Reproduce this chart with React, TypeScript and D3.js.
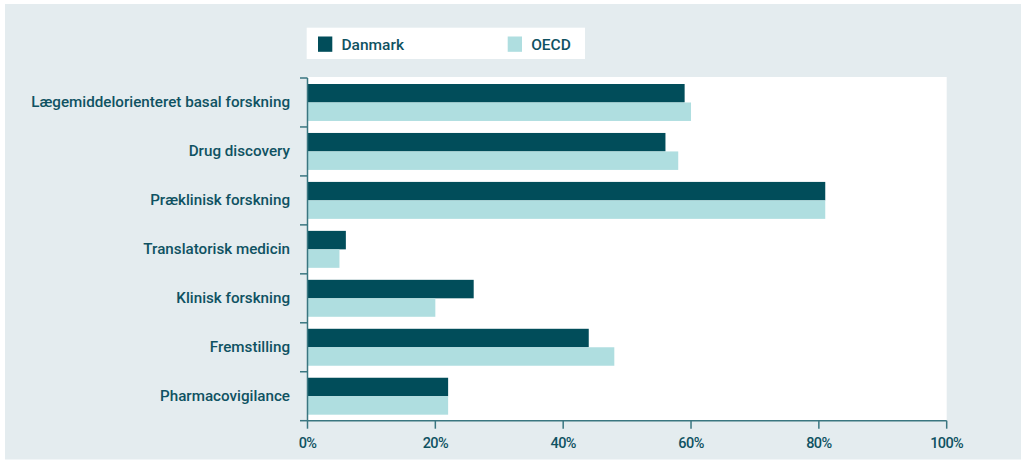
import React from "react";
import * as d3 from "d3";

const categories = [
  "Lægemiddelorienteret basal forskning",
  "Drug discovery",
  "Præklinisk forskning",
  "Translatorisk medicin",
  "Klinisk forskning",
  "Fremstilling",
  "Pharmacovigilance",
];
const danmark = [59, 56, 81, 6, 26, 44, 22];
const oecd = [60, 58, 81, 5, 20, 48, 22];
const seriesNames = ["Danmark", "OECD"];
const xTicks = [0, 20, 40, 60, 80, 100];

const DARK = "#014d5a";
const LIGHT = "#afdee0";
const TEXT = "#0f5262";
const AXIS = "#3a7680";
const BG = "#e4ecef";
const FONT = "Roboto, 'DejaVu Sans', sans-serif";

export default function App() {
  const W = 1021, H = 461;
  const left = 307.5, right = 946.7, top = 78, bottom = 420.7;
  const x = d3.scaleLinear().domain([0, 100]).range([left, right]);
  const y = d3.scaleBand<string>().domain(categories).range([top, bottom]).padding(0);
  const bw = y.bandwidth();
  const inner = d3.scaleBand<string>().domain(seriesNames).range([6, bw - 6]).padding(0);
  const data = [danmark, oecd];
  const colors = [DARK, LIGHT];

  return (
    <svg width={W} height={H} style={{ position: "absolute", left: 0, top: 0, fontFamily: FONT }}>
      <rect x={0} y={0} width={W} height={H} fill="#ffffff" />
      <rect x={5} y={4} width={W - 5} height={455.5} fill={BG} />
      <rect x={left} y={77} width={right - left} height={bottom - 77} fill="#ffffff" />
      <rect x={306.7} y={27.7} width={278.3} height={31.3} fill="#ffffff" />
      {seriesNames.map((s, i) => {
        const lx = i === 0 ? 318 : 507.7;
        return (
          <g key={s}>
            <rect x={lx} y={36.5} width={14.3} height={15.3} fill={colors[i]} />
            <text x={lx + 23.5} y={44.2} dy="0.35em" fontSize={15.5} fontWeight={500} fill={TEXT}>
              {s}
            </text>
          </g>
        );
      })}
      {categories.map((c, ci) => (
        <g key={c} transform={`translate(0,${y(c)})`}>
          {seriesNames.map((s, si) => (
            <rect
              key={s}
              x={x(0)}
              y={inner(s)}
              width={x(data[si][ci]) - x(0)}
              height={inner.bandwidth()}
              fill={colors[si]}
            />
          ))}
          <text
            x={290}
            y={bw / 2 - 1}
            dy="0.35em"
            textAnchor="end"
            fontSize={15.2}
            fontWeight={500}
            fill={TEXT}
          >
            {c}
          </text>
        </g>
      ))}
      <line x1={left} x2={left} y1={top} y2={bottom} stroke={AXIS} strokeWidth={1.5} />
      {d3.range(categories.length + 1).map((i) => {
        const yy = top + i * bw;
        return <line key={i} x1={300} x2={left} y1={yy} y2={yy} stroke={AXIS} strokeWidth={1.5} />;
      })}
      <line x1={left} x2={right} y1={bottom} y2={bottom} stroke={AXIS} strokeWidth={1.5} />
      {xTicks.map((t) => (
        <g key={t} transform={`translate(${x(t)},0)`}>
          <line y1={bottom} y2={bottom + 8} stroke={AXIS} strokeWidth={1.5} />
          <text y={443} dy="0.35em" textAnchor="middle" fontSize={14.5} fontWeight={500} fill={TEXT}
            style={{ letterSpacing: "-0.6px" }}>
            {t}%
          </text>
        </g>
      ))}
    </svg>
  );
}
